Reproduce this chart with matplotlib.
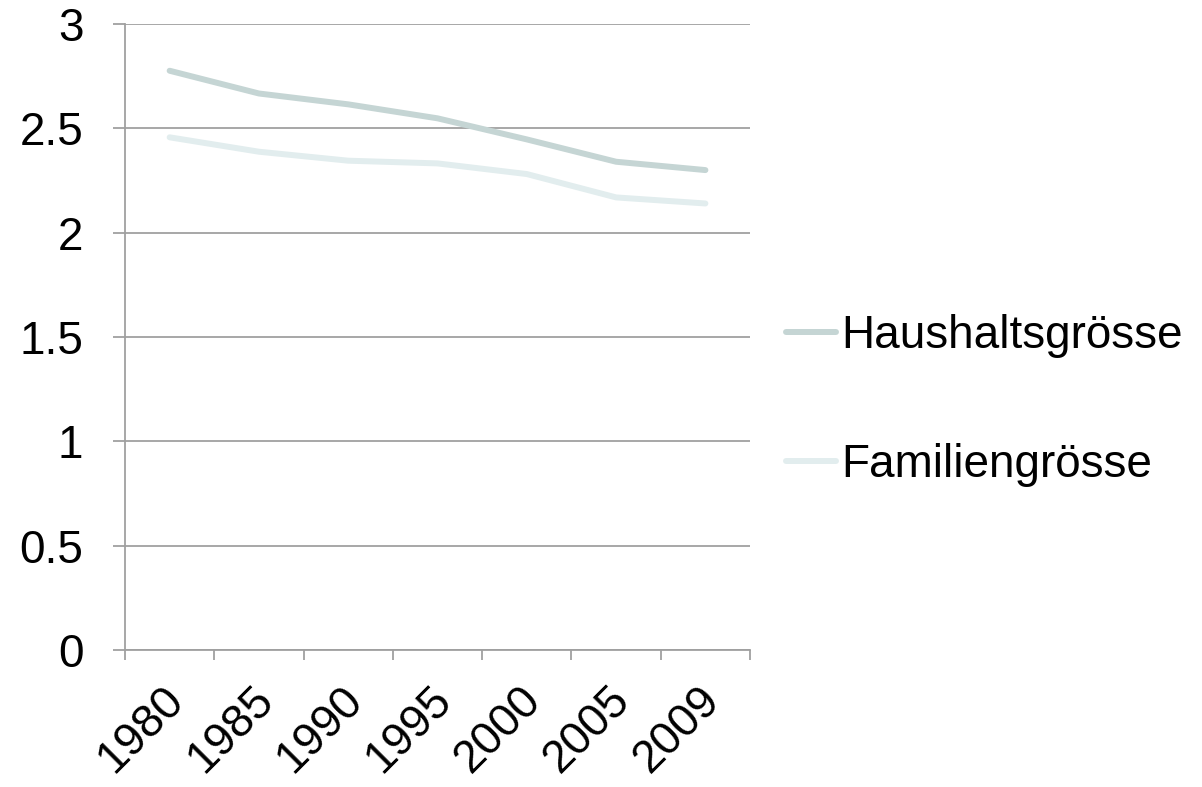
import matplotlib
matplotlib.use("Agg")
import matplotlib.pyplot as plt

years = ["1980", "1985", "1990", "1995", "2000", "2005", "2009"]
haushalt = [2.776, 2.667, 2.615, 2.548, 2.447, 2.34, 2.30]
familie = [2.457, 2.388, 2.345, 2.332, 2.281, 2.169, 2.14]

plt.rcParams["font.family"] = ["Liberation Sans", "DejaVu Sans"]

fig = plt.figure(figsize=(12.02, 7.87), dpi=100)
ax = fig.add_axes([0.104, 0.174, 0.52, 0.7955])

x = list(range(len(years)))
ax.plot(x, haushalt, color="#c5d5d4", lw=4.3, solid_capstyle="round",
        solid_joinstyle="round", label="Haushaltsgrösse", zorder=3)
ax.plot(x, familie, color="#e2edee", lw=4.3, solid_capstyle="round",
        solid_joinstyle="round", label="Familiengrösse", zorder=3)

ax.set_xlim(-0.5, len(years) - 0.5)
ax.set_ylim(0, 3)
ax.set_yticks([0, 0.5, 1, 1.5, 2, 2.5, 3])
ax.set_yticklabels(["0", "0.5", "1", "1.5", "2", "2.5", "3"])
ax.grid(axis="y", color="#a0a0a0", lw=1.3, zorder=1)

# category boundaries as major ticks, labels slightly right of centre (Excel-like)
ax.set_xticks([i - 0.5 for i in range(len(years) + 1)])
ax.set_xticklabels([])
ax.set_xticks([i + 0.26 for i in x], minor=True)
ax.set_xticklabels(years, minor=True, rotation=45, ha="right", va="top",
                   fontsize=33)
ax.tick_params(axis="x", which="major", length=7, width=1.3, color="#a0a0a0")
ax.tick_params(axis="x", which="minor", length=0, pad=20)
ax.tick_params(axis="y", length=9, width=1.3, color="#a0a0a0", labelsize=33, pad=21)

for s in ["top", "right"]:
    ax.spines[s].set_visible(False)
for s in ["left", "bottom"]:
    ax.spines[s].set_color("#a0a0a0")
    ax.spines[s].set_linewidth(1.3)

leg = ax.legend(loc="center left", bbox_to_anchor=(1.057, 0.398), frameon=False,
                fontsize=33, handlelength=1.1, handletextpad=0.12, labelspacing=1.85,
                borderpad=0, borderaxespad=0)

fig.savefig("out.png", dpi=100)
